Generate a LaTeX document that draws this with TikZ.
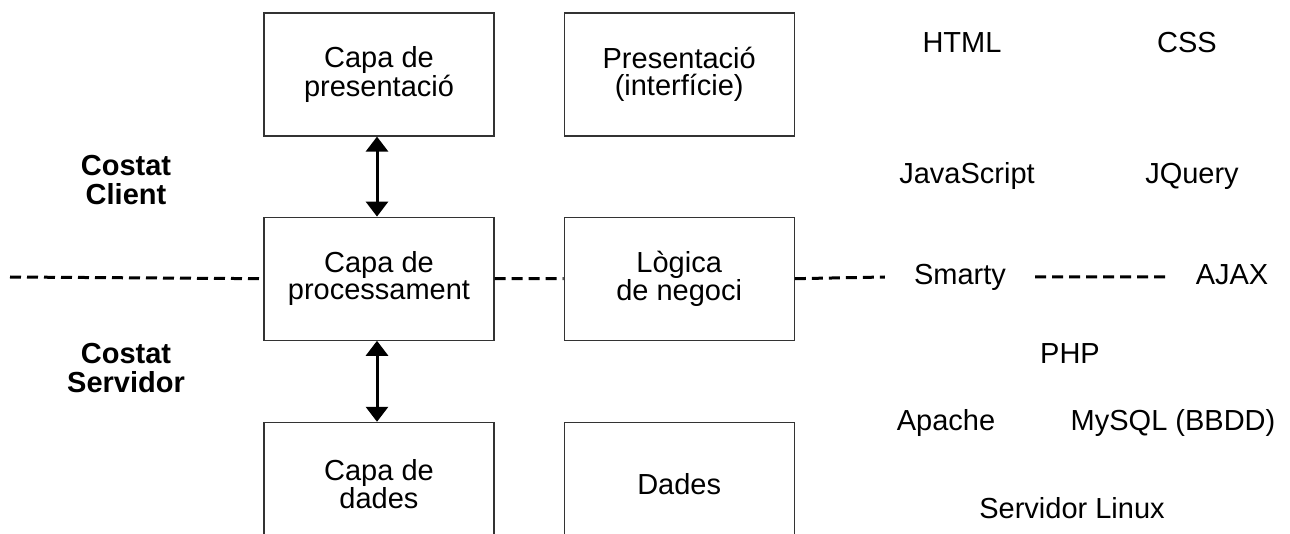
\documentclass[tikz,border=0pt]{standalone}
\usepackage{fontspec}
\setmainfont{Liberation Sans}
\usetikzlibrary{arrows.meta,positioning}

\begin{document}
\begin{tikzpicture}[x=1pt,y=1pt,>={Triangle[length=15pt,width=22pt]},
  every node/.style={font=\fontsize{29}{27}\selectfont},
  layer/.style={draw=black!80,line width=1.2pt,minimum width=230pt,minimum height=123pt,align=center},
  side/.style={align=center,font=\fontsize{29}{28.5}\selectfont\bfseries},
  split/.style={line width=3pt,dash pattern=on 11pt off 6pt}]
  \useasboundingbox (0,0) rectangle (1290,-534);
  \clip (0,0) rectangle (1290,-534);

  % layers
  \node[layer] (cp)                   at (379,-74.5) {Capa de\\presentació};
  \node[layer] (pr) [below=80pt of cp] {Capa de\\processament};
  \node[layer] (cd) [below=81pt of pr] {Capa de\\dades};
  \node[layer] (ip) [right=69pt of cp] {Presentació\\(interfície)};
  \node[layer] (ln) [right=69pt of pr] {Lògica\\de negoci};
  \node[layer] (dd) [right=69pt of cd] {Dades};

  \node[side] (client)   at (126,-180) {Costat\\Client};
  \node[side] (servidor) at (126,-368) {Costat\\Servidor};

  % technologies
  \node (html)   at (962,-43)   {HTML};
  \node (css)    at (1187,-43)  {CSS};
  \node (js)     at (967,-176)  {JavaScript};
  \node (jquery) at (1192,-176) {JQuery};
  \node[inner xsep=29pt] (smarty) at (960,-277) {Smarty};
  \node (ajax)   at (1232,-275) {AJAX};
  \node (php)    at (1070,-354) {PHP};
  \node (apache) at (946,-423)  {Apache};
  \node (mysql)  at (1173,-423) {MySQL (BBDD)};
  \node (linux)  at (1072,-508) {Servidor Linux};

  \coordinate (dl) at (10,-277);
  \coordinate (dr) at (1167,-277);

  \draw[split] (dl) -- (pr.west) (pr.east) -- (ln.west)
               (ln.east) -- (smarty.west) (smarty.east) -- (dr);
  \draw[<->,line width=3pt] ([xshift=-2pt]cp.south) -- ([xshift=-2pt]pr.north);
  \draw[<->,line width=3pt] ([xshift=-2pt]pr.south) -- ([xshift=-2pt]cd.north);
\end{tikzpicture}
\end{document}
